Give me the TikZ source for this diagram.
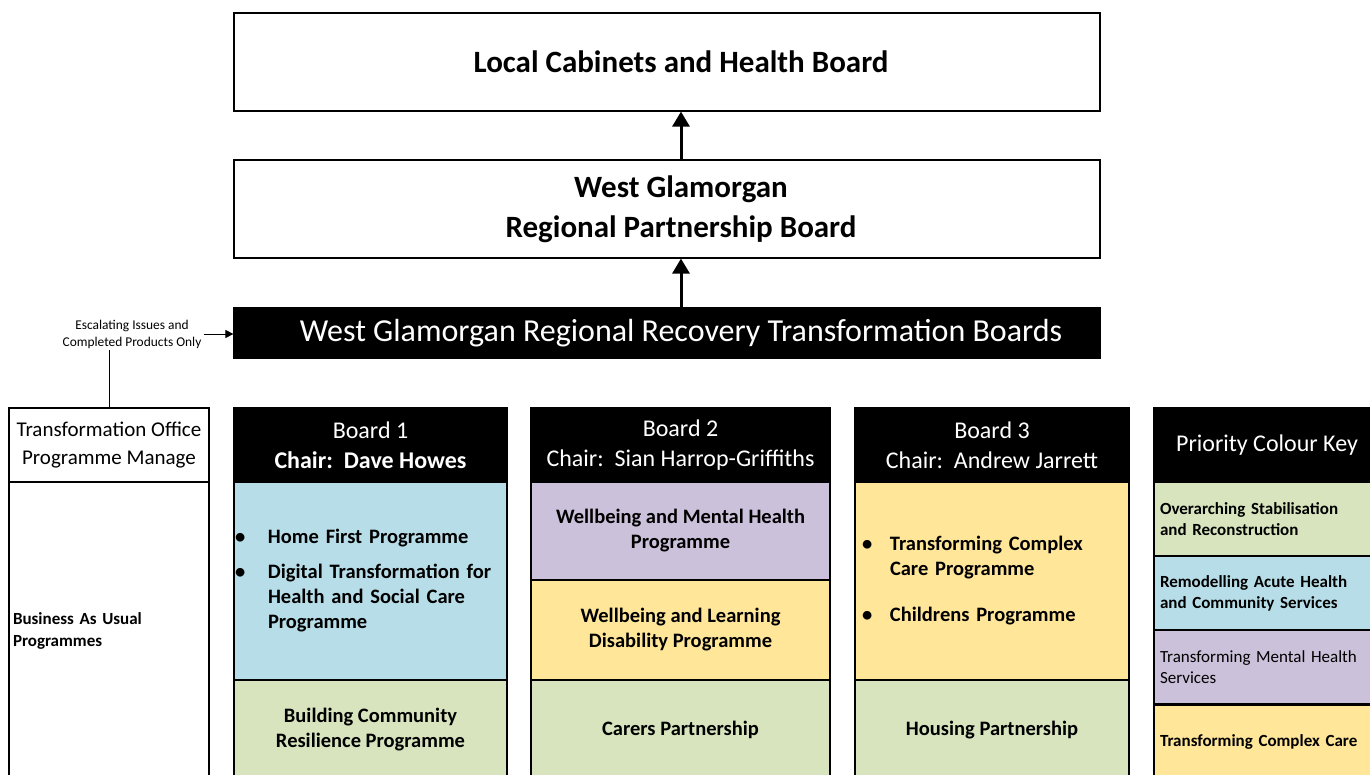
\documentclass[tikz,border=0pt]{standalone}
\usepackage{fontspec}
\setmainfont{Carlito}
\usetikzlibrary{arrows,arrows.meta}
\definecolor{keyblue}{HTML}{B7DEE8}
\definecolor{keygreen}{HTML}{D7E4BD}
\definecolor{keypurple}{HTML}{CCC1DA}
\definecolor{keyyellow}{HTML}{FFE699}
\tikzset{
  cell/.style={draw=black, line width=1.2pt, inner sep=0pt, align=center},
  topbox/.style={cell, minimum width=866pt},
  toptext/.style={align=center, inner sep=0pt, font=\fontsize{31}{40}\selectfont\bfseries},
  headbox/.style={cell, fill=black, text=white, minimum height=74pt, font=\fontsize{24}{30}\selectfont},
  progbox/.style={cell, font=\fontsize{20.5}{25}\selectfont\bfseries},
  keybox/.style={cell, minimum width=226pt, minimum height=74pt, text width=214pt, inner xsep=6pt, align=left, font=\fontsize{17}{21}\selectfont\bfseries},
  uparrow/.style={line width=3pt, -{Triangle[width=17pt,length=15pt]}}
}
\begin{document}
\begin{tikzpicture}[x=1pt,y=-1pt]
\useasboundingbox (0,0) rectangle (1370,775);

% governance chain
\node[topbox, minimum height=98pt] (cabinet) at (667,62) {};
\node[toptext, xshift=14pt] (cabinettext) at (cabinet) {Local Cabinets and Health Board};
\node[topbox, minimum height=98pt] (rpb) at (667,209) {};
\node[toptext, xshift=14pt] (rpbtext) at (rpb) {West Glamorgan\\Regional Partnership Board};
\node[topbox, fill=black, minimum height=50pt] (recovery) at (667,333) {};
\node[toptext, xshift=14pt, text=white, font=\fontsize{32}{36}\selectfont] (recoverytext) at (recovery) {West Glamorgan Regional Recovery Transformation Boards};
\draw[uparrow] ([xshift=14pt]rpb.north) -- ([xshift=14pt]cabinet.south);
\draw[uparrow] ([xshift=14pt]recovery.north) -- ([xshift=14pt]rpb.south);

% transformation office
\node[cell, minimum width=200pt, minimum height=74pt, font=\fontsize{21}{28}\selectfont] (office) at (109,445) {Transformation Office\\Programme Manage};
\node[cell, minimum height=298pt, text width=192pt, inner xsep=4pt, align=left, font=\fontsize{17}{22}\selectfont\bfseries] (bau) at (109,631) {Business As Usual\\Programmes};
\node[align=center, inner sep=2pt, font=\fontsize{13.4}{17}\selectfont] (escalate) at (132,334) {Escalating Issues and\\Completed Products Only};
\draw[line width=0.8pt] (office.north) -- (office.north |- escalate.south);
\draw[line width=0.8pt, -{Triangle[width=8pt,length=8pt]}] (escalate.east) -- (recovery.west |- escalate.east);

% board 1
\node[headbox, minimum width=273pt] (board1) at (370.5,445) {Board 1\\\textbf{Chair:\ \ Dave Howes}};
\node[progbox, fill=keyblue, minimum width=273pt, minimum height=198pt, text width=273pt, align=left] (home) at (370.5,581)
  {\begin{tabular}{@{\hspace{1pt}}p{33pt}@{}l@{}}
   \textbullet & Home First Programme\\[10pt]
   \textbullet & Digital Transformation for\\
               & Health and Social Care\\
               & Programme
   \end{tabular}};
\node[progbox, fill=keygreen, minimum width=273pt, minimum height=100pt] (resilience) at (370.5,730) {Building Community\\Resilience Programme};

% board 2
\node[headbox, minimum width=299pt] (board2) at (680.5,445) {Board 2\\Chair:\ \ Sian Harrop-Griffiths};
\node[progbox, fill=keypurple, minimum width=299pt, minimum height=98pt] (mental) at (680.5,531) {Wellbeing and Mental Health\\Programme};
\node[progbox, fill=keyyellow, minimum width=299pt, minimum height=100pt] (learning) at (680.5,630) {Wellbeing and Learning\\Disability Programme};
\node[progbox, fill=keygreen, minimum width=299pt, minimum height=100pt] (carers) at (680.5,730) {Carers Partnership};

% board 3
\node[headbox, minimum width=274pt] (board3) at (992,445) {Board 3\\Chair:\ \ Andrew Jarrett};
\node[progbox, fill=keyyellow, minimum width=274pt, minimum height=198pt, text width=274pt, align=left] (complex) at (992,581)
  {\begin{tabular}{@{\hspace{7pt}}p{28pt}@{}l@{}}
   \textbullet & Transforming Complex\\
               & Care Programme\\[21pt]
   \textbullet & Childrens Programme
   \end{tabular}};
\node[progbox, fill=keygreen, minimum width=274pt, minimum height=100pt] (housing) at (992,730) {Housing Partnership};

% colour key
\node[headbox, minimum width=226pt] (keyhead) at (1267,445) {Priority Colour Key};
\node[keybox, fill=keygreen] (keystab) at (1267,519) {Overarching Stabilisation\\and Reconstruction};
\node[keybox, fill=keyblue] (keyacute) at (1267,593) {Remodelling Acute Health\\and Community Services};
\node[keybox, fill=keypurple, font=\fontsize{17}{21}\selectfont] (keymental) at (1267,667) {Transforming Mental Health\\Services};
\node[keybox, fill=keyyellow] (keycomplex) at (1267,742) {Transforming Complex Care};
\end{tikzpicture}
\end{document}
